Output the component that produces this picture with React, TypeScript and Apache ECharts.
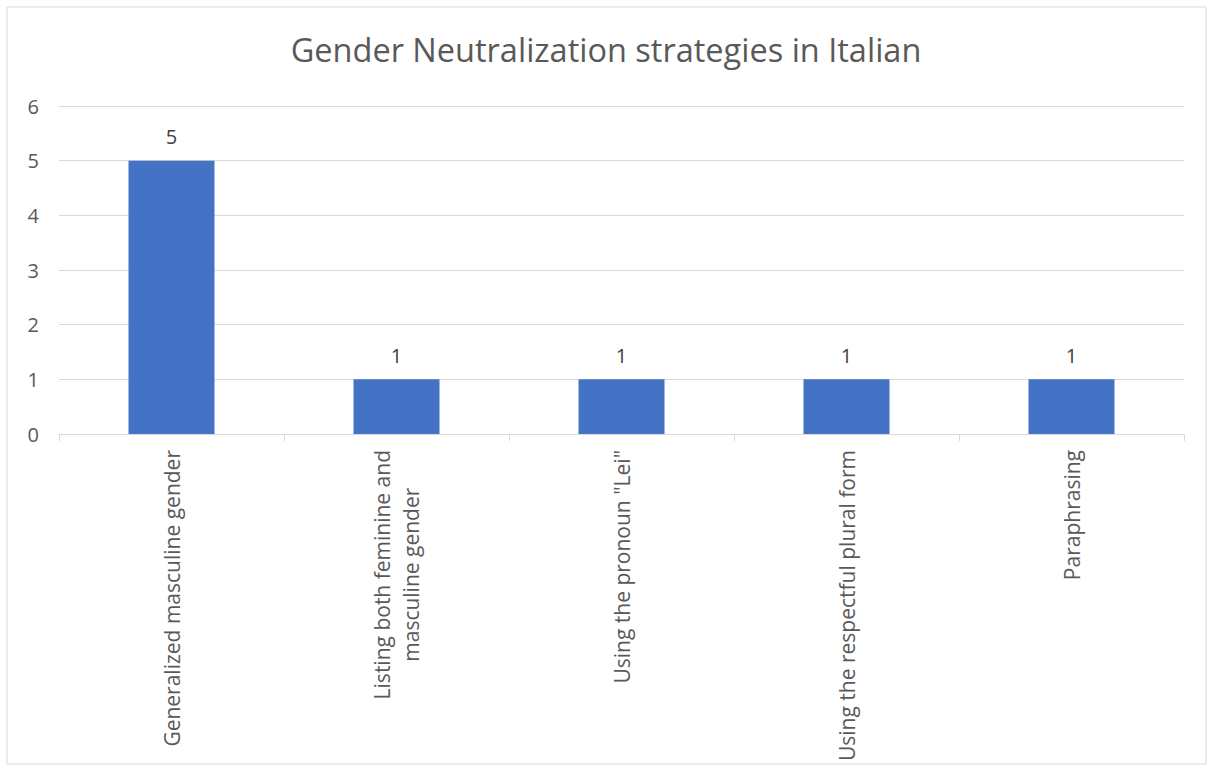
import React, { useEffect, useRef } from "react";
import * as echarts from "echarts";

const titleText = "Gender Neutralization strategies in Italian";
const categories = [
  "Generalized masculine gender",
  "Listing both feminine and\nmasculine gender",
  'Using the pronoun "Lei"',
  "Using the respectful plural form",
  "Paraphrasing",
];
const values = [5, 1, 1, 1, 1];
const yMin = 0;
const yMax = 6;
const yInterval = 1;

const FONT = "'Open Sans', 'Noto Sans', sans-serif";
const TEXT = "#595959";
const LINE = "#d9d9d9";

export default function App() {
  const ref = useRef<HTMLDivElement>(null);
  useEffect(() => {
    if (!ref.current) return;
    const chart = echarts.init(ref.current, undefined, { renderer: "svg" });
    chart.setOption({
      animation: false,
      backgroundColor: "#ffffff",
      title: {
        text: titleText,
        left: "center",
        top: 28,
        textStyle: { fontFamily: FONT, fontSize: 32.5, fontWeight: "normal", color: TEXT },
      },
      graphic: [
        {
          type: "rect",
          shape: { x: 7, y: 7, width: 1199, height: 757 },
          style: { fill: "none", stroke: LINE, lineWidth: 1 },
          silent: true,
        },
      ],
      grid: { left: 59, right: 28, top: 106, bottom: 337, containLabel: false },
      xAxis: {
        type: "category",
        data: categories,
        axisLine: { lineStyle: { color: LINE, width: 1 } },
        axisTick: { show: true, length: 7, lineStyle: { color: LINE } },
        axisLabel: {
          rotate: 90,
          margin: 16,
          interval: 0,
          fontFamily: FONT,
          fontSize: 21,
          color: TEXT,
          lineHeight: 29,
          formatter: (v: string) =>
            v.includes("\n") ? v.split("\n").map((l) => `{c|${l}}`).join("\n") : v,
          rich: {
            c: { align: "center", fontFamily: FONT, fontSize: 21, color: TEXT, lineHeight: 29 },
          },
        },
      },
      yAxis: {
        type: "value",
        min: yMin,
        max: yMax,
        interval: yInterval,
        axisLine: { show: false },
        axisTick: { show: false },
        splitLine: { lineStyle: { color: LINE, width: 1 } },
        axisLabel: { fontFamily: FONT, fontSize: 20, color: TEXT, margin: 20 },
      },
      series: [
        {
          type: "bar",
          data: values,
          barWidth: 86,
          itemStyle: { color: "#4472C4" },
          label: {
            show: true,
            position: "top",
            distance: 14,
            fontFamily: FONT,
            fontSize: 20,
            color: "#404040",
          },
        },
      ],
    });
    return () => chart.dispose();
  }, []);
  return (
    <div
      ref={ref}
      style={{ position: "absolute", left: 0, top: 0, width: 1212, height: 771 }}
    />
  );
}
